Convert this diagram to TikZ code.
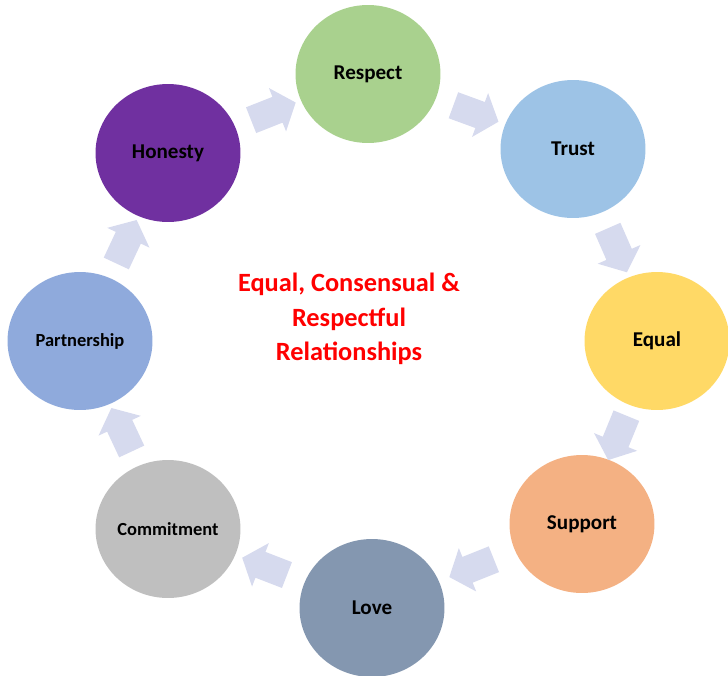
\documentclass[tikz,border=0pt]{standalone}
\usepackage{fontspec}
\setmainfont{Carlito}
\usetikzlibrary{shapes.geometric, shapes.arrows, calc, positioning}

\definecolor{respectgreen}{HTML}{A9D18E}
\definecolor{trustblue}{HTML}{9DC3E6}
\definecolor{equalgold}{HTML}{FFD966}
\definecolor{supportorange}{HTML}{F4B183}
\definecolor{loveslate}{HTML}{8497B0}
\definecolor{commitgrey}{HTML}{BFBFBF}
\definecolor{partnerblue}{HTML}{8FAADC}
\definecolor{honestypurple}{HTML}{7030A0}
\definecolor{cyclearrowfill}{HTML}{D6DAEE}

\tikzset{
  bubble/.style={ellipse, inner sep=0pt, minimum width=2.9cm, minimum height=2.76cm,
    font=\bfseries\fontsize{12}{14}\selectfont},
  smalltext/.style={font=\bfseries\fontsize{10.5}{12}\selectfont},
  cyclearrow/.style={single arrow, fill=cyclearrowfill, draw=none, inner xsep=0pt, inner ysep=0.27cm,
    minimum height=0.96cm, single arrow head extend=0.19cm, single arrow tip angle=100}
}

\begin{document}
\begin{tikzpicture}[x=0.02cm, y=-0.02cm]
      \useasboundingbox (0, 0) rectangle (728, 676);

      % the eight values
      \node[bubble, fill=respectgreen] (respect) at (368, 74) {Respect};
      \node[bubble, fill=trustblue] (trust) at (573, 149) {Trust};
      \node[bubble, fill=equalgold] (equal) at (657, 341) {Equal};
      \node[bubble, fill=supportorange] (support) at (582, 524) {Support};
      \node[bubble, fill=loveslate] (love) at (372, 608) {Love};
      \node[bubble, fill=commitgrey, smalltext] (commitment) at (168, 529) {Commitment};
      \node[bubble, fill=partnerblue, smalltext] (partnership) at (80, 341) {Partnership};
      \node[bubble, fill=honestypurple] (honesty) at (168, 153) {Honesty};

      % block arrows round the cycle
      \foreach \from/\to in {honesty/respect, respect/trust, trust/equal, equal/support,
                             support/love, love/commitment, commitment/partnership, partnership/honesty}
        \path let \p1 = ($(\to)-(\from)$), \n1 = {atan2(\y1, \x1)} in
          node[cyclearrow, rotate=\n1] (\from-arrow) at ($(\from)!0.5!(\to)$) {};

      \node[text=red, align=center, font=\bfseries\fontsize{15}{19.8}\selectfont] (title) at (349, 319)
        {Equal, Consensual \&\\Respectful\\Relationships};

    \end{tikzpicture}
\end{document}
